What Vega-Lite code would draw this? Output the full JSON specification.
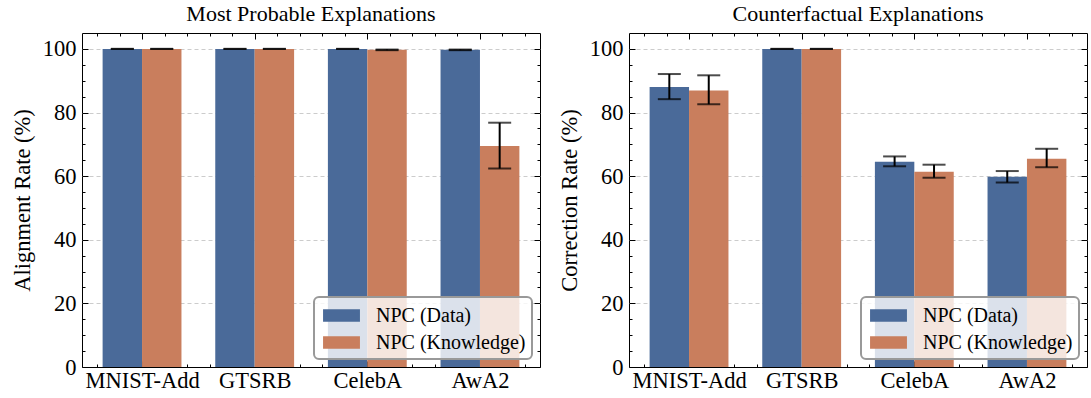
{
  "$schema": "https://vega.github.io/schema/vega-lite/v6.json",
  "padding": {"left": 10, "top": 2, "right": 2, "bottom": 2},
  "data": {"values": [
    {"panel": "MPE", "dataset": "MNIST-Add", "series": "NPC (Data)", "value": 100, "lo": 100, "hi": 100},
    {"panel": "MPE", "dataset": "MNIST-Add", "series": "NPC (Knowledge)", "value": 100, "lo": 100, "hi": 100},
    {"panel": "MPE", "dataset": "GTSRB", "series": "NPC (Data)", "value": 100, "lo": 100, "hi": 100},
    {"panel": "MPE", "dataset": "GTSRB", "series": "NPC (Knowledge)", "value": 100, "lo": 100, "hi": 100},
    {"panel": "MPE", "dataset": "CelebA", "series": "NPC (Data)", "value": 100, "lo": 100, "hi": 100},
    {"panel": "MPE", "dataset": "CelebA", "series": "NPC (Knowledge)", "value": 99.7, "lo": 99.6, "hi": 99.8},
    {"panel": "MPE", "dataset": "AwA2", "series": "NPC (Data)", "value": 99.7, "lo": 99.6, "hi": 99.8},
    {"panel": "MPE", "dataset": "AwA2", "series": "NPC (Knowledge)", "value": 69.5, "lo": 62.4, "hi": 76.8},
    {"panel": "CE", "dataset": "MNIST-Add", "series": "NPC (Data)", "value": 88.0, "lo": 84.2, "hi": 92.1},
    {"panel": "CE", "dataset": "MNIST-Add", "series": "NPC (Knowledge)", "value": 86.9, "lo": 82.6, "hi": 91.7},
    {"panel": "CE", "dataset": "GTSRB", "series": "NPC (Data)", "value": 100, "lo": 100, "hi": 100},
    {"panel": "CE", "dataset": "GTSRB", "series": "NPC (Knowledge)", "value": 100, "lo": 100, "hi": 100},
    {"panel": "CE", "dataset": "CelebA", "series": "NPC (Data)", "value": 64.5, "lo": 63.1, "hi": 66.2},
    {"panel": "CE", "dataset": "CelebA", "series": "NPC (Knowledge)", "value": 61.4, "lo": 59.5, "hi": 63.6},
    {"panel": "CE", "dataset": "AwA2", "series": "NPC (Data)", "value": 59.8, "lo": 58.0, "hi": 61.6},
    {"panel": "CE", "dataset": "AwA2", "series": "NPC (Knowledge)", "value": 65.5, "lo": 62.8, "hi": 68.6}
  ]},
  "spacing": 16,
  "resolve": {"legend": {"color": "independent"}},
  "hconcat": [
    {
      "title": "Most Probable Explanations",
      "width": 458, "height": 334,
      "transform": [{"filter": "datum.panel === 'MPE'"}],
      "resolve": {"scale": {"x": "independent"}},
      "layer": [
        {"layer": [
          {"mark": {"type": "bar"},
           "encoding": {
             "x": {"field": "dataset", "type": "nominal", "sort": ["MNIST-Add", "GTSRB", "CelebA", "AwA2"], "scale": {"paddingInner": 0.3, "paddingOuter": 0.183}, "axis": null},
             "xOffset": {"field": "series", "type": "nominal", "sort": ["NPC (Data)", "NPC (Knowledge)"], "scale": {"paddingInner": 0, "paddingOuter": 0}},
             "y": {"field": "value", "type": "quantitative", "scale": {"domain": [0, 105], "nice": false},
                   "axis": {"orient": "left", "values": [0,5,10,15,20,25,30,35,40,45,50,55,60,65,70,75,80,85,90,95,100],
                            "labelExpr": "datum.value % 20 === 0 ? datum.label : ''",
                            "tickSize": {"condition": {"test": "datum.value % 20 === 0", "value": -6}, "value": -3},
                            "grid": true,
                            "gridOpacity": {"condition": {"test": "datum.value % 20 === 0 && datum.value > 0", "value": 1}, "value": 0},
                            "labelPadding": 12, "title": "Alignment Rate (%)", "titlePadding": 8, "zindex": 0}},
             "color": {"field": "series", "type": "nominal", "sort": ["NPC (Data)", "NPC (Knowledge)"], "scale": {"domain": ["NPC (Data)", "NPC (Knowledge)"], "range": ["#4A6A99", "#C97E5D"]},
                       "legend": {"title": null}}
           }},
          {"mark": {"type": "rule", "color": "black", "strokeWidth": 2},
           "encoding": {
             "x": {"field": "dataset", "type": "nominal", "sort": ["MNIST-Add", "GTSRB", "CelebA", "AwA2"], "axis": null},
             "xOffset": {"field": "series", "type": "nominal", "sort": ["NPC (Data)", "NPC (Knowledge)"]},
             "y": {"field": "lo", "type": "quantitative",
                   "axis": {"orient": "right", "values": [0,5,10,15,20,25,30,35,40,45,50,55,60,65,70,75,80,85,90,95,100], "labels": false, "grid": false, "title": null,
                            "tickSize": {"condition": {"test": "datum.value % 20 === 0", "value": -6}, "value": -3}}},
             "y2": {"field": "hi"}
           }},
          {"mark": {"type": "tick", "color": "black", "thickness": 2, "size": 23},
           "encoding": {
             "x": {"field": "dataset", "type": "nominal", "sort": ["MNIST-Add", "GTSRB", "CelebA", "AwA2"], "axis": null},
             "xOffset": {"field": "series", "type": "nominal", "sort": ["NPC (Data)", "NPC (Knowledge)"]},
             "y": {"field": "lo", "type": "quantitative", "axis": null}
           }},
          {"mark": {"type": "tick", "color": "black", "thickness": 2, "size": 23},
           "encoding": {
             "x": {"field": "dataset", "type": "nominal", "sort": ["MNIST-Add", "GTSRB", "CelebA", "AwA2"], "axis": null},
             "xOffset": {"field": "series", "type": "nominal", "sort": ["NPC (Data)", "NPC (Knowledge)"]},
             "y": {"field": "hi", "type": "quantitative", "axis": null}
           }}
        ]},
        {"mark": {"type": "point", "opacity": 0},
         "encoding": {
           "x": {"field": "dataset", "type": "nominal", "scale": {"type": "point", "padding": 0.667, "domain": ["m0","m1","MNIST-Add","m3","m4","m5","m6","GTSRB","m8","m9","m10","m11","CelebA","m13","m14","m15","m16","AwA2","m18","m19"]},
                 "axis": {"orient": "top", "labels": false, "domain": false, "grid": false, "title": null,
                          "tickSize": {"condition": {"test": "indexof(['MNIST-Add','GTSRB','CelebA','AwA2'], datum.value) >= 0", "value": -6}, "value": -3}}},
           "y": {"field": "value", "type": "quantitative", "axis": null}
         }},
        {"mark": {"type": "point", "opacity": 0},
         "encoding": {
           "x": {"field": "dataset", "type": "nominal", "scale": {"type": "point", "padding": 0.667, "domain": ["m0","m1","MNIST-Add","m3","m4","m5","m6","GTSRB","m8","m9","m10","m11","CelebA","m13","m14","m15","m16","AwA2","m18","m19"]},
                 "axis": {"orient": "bottom", "domain": false, "grid": false, "title": null, "zindex": 0, "labelAngle": 0, "labelPadding": 8,
                          "labelExpr": "indexof(['MNIST-Add','GTSRB','CelebA','AwA2'], datum.value) >= 0 ? datum.label : ''",
                          "tickSize": {"condition": {"test": "indexof(['MNIST-Add','GTSRB','CelebA','AwA2'], datum.value) >= 0", "value": -6}, "value": -3}}},
           "y": {"field": "value", "type": "quantitative", "axis": null}
         }}
      ]
    },
    {
      "title": "Counterfactual Explanations",
      "width": 458, "height": 334,
      "transform": [{"filter": "datum.panel === 'CE'"}],
      "resolve": {"scale": {"x": "independent"}},
      "layer": [
        {"layer": [
          {"mark": {"type": "bar"},
           "encoding": {
             "x": {"field": "dataset", "type": "nominal", "sort": ["MNIST-Add", "GTSRB", "CelebA", "AwA2"], "scale": {"paddingInner": 0.3, "paddingOuter": 0.183}, "axis": null},
             "xOffset": {"field": "series", "type": "nominal", "sort": ["NPC (Data)", "NPC (Knowledge)"], "scale": {"paddingInner": 0, "paddingOuter": 0}},
             "y": {"field": "value", "type": "quantitative", "scale": {"domain": [0, 105], "nice": false},
                   "axis": {"orient": "left", "values": [0,5,10,15,20,25,30,35,40,45,50,55,60,65,70,75,80,85,90,95,100],
                            "labelExpr": "datum.value % 20 === 0 ? datum.label : ''",
                            "tickSize": {"condition": {"test": "datum.value % 20 === 0", "value": -6}, "value": -3},
                            "grid": true,
                            "gridOpacity": {"condition": {"test": "datum.value % 20 === 0 && datum.value > 0", "value": 1}, "value": 0},
                            "labelPadding": 12, "title": "Correction Rate (%)", "titlePadding": 8, "zindex": 0}},
             "color": {"field": "series", "type": "nominal", "sort": ["NPC (Data)", "NPC (Knowledge)"], "scale": {"domain": ["NPC (Data)", "NPC (Knowledge)"], "range": ["#4A6A99", "#C97E5D"]},
                       "legend": {"title": null}}
           }},
          {"mark": {"type": "rule", "color": "black", "strokeWidth": 2},
           "encoding": {
             "x": {"field": "dataset", "type": "nominal", "sort": ["MNIST-Add", "GTSRB", "CelebA", "AwA2"], "axis": null},
             "xOffset": {"field": "series", "type": "nominal", "sort": ["NPC (Data)", "NPC (Knowledge)"]},
             "y": {"field": "lo", "type": "quantitative",
                   "axis": {"orient": "right", "values": [0,5,10,15,20,25,30,35,40,45,50,55,60,65,70,75,80,85,90,95,100], "labels": false, "grid": false, "title": null,
                            "tickSize": {"condition": {"test": "datum.value % 20 === 0", "value": -6}, "value": -3}}},
             "y2": {"field": "hi"}
           }},
          {"mark": {"type": "tick", "color": "black", "thickness": 2, "size": 23},
           "encoding": {
             "x": {"field": "dataset", "type": "nominal", "sort": ["MNIST-Add", "GTSRB", "CelebA", "AwA2"], "axis": null},
             "xOffset": {"field": "series", "type": "nominal", "sort": ["NPC (Data)", "NPC (Knowledge)"]},
             "y": {"field": "lo", "type": "quantitative", "axis": null}
           }},
          {"mark": {"type": "tick", "color": "black", "thickness": 2, "size": 23},
           "encoding": {
             "x": {"field": "dataset", "type": "nominal", "sort": ["MNIST-Add", "GTSRB", "CelebA", "AwA2"], "axis": null},
             "xOffset": {"field": "series", "type": "nominal", "sort": ["NPC (Data)", "NPC (Knowledge)"]},
             "y": {"field": "hi", "type": "quantitative", "axis": null}
           }}
        ]},
        {"mark": {"type": "point", "opacity": 0},
         "encoding": {
           "x": {"field": "dataset", "type": "nominal", "scale": {"type": "point", "padding": 0.667, "domain": ["m0","m1","MNIST-Add","m3","m4","m5","m6","GTSRB","m8","m9","m10","m11","CelebA","m13","m14","m15","m16","AwA2","m18","m19"]},
                 "axis": {"orient": "top", "labels": false, "domain": false, "grid": false, "title": null,
                          "tickSize": {"condition": {"test": "indexof(['MNIST-Add','GTSRB','CelebA','AwA2'], datum.value) >= 0", "value": -6}, "value": -3}}},
           "y": {"field": "value", "type": "quantitative", "axis": null}
         }},
        {"mark": {"type": "point", "opacity": 0},
         "encoding": {
           "x": {"field": "dataset", "type": "nominal", "scale": {"type": "point", "padding": 0.667, "domain": ["m0","m1","MNIST-Add","m3","m4","m5","m6","GTSRB","m8","m9","m10","m11","CelebA","m13","m14","m15","m16","AwA2","m18","m19"]},
                 "axis": {"orient": "bottom", "domain": false, "grid": false, "title": null, "zindex": 0, "labelAngle": 0, "labelPadding": 8,
                          "labelExpr": "indexof(['MNIST-Add','GTSRB','CelebA','AwA2'], datum.value) >= 0 ? datum.label : ''",
                          "tickSize": {"condition": {"test": "indexof(['MNIST-Add','GTSRB','CelebA','AwA2'], datum.value) >= 0", "value": -6}, "value": -3}}},
           "y": {"field": "value", "type": "quantitative", "axis": null}
         }}
      ]
    }
  ],
  "config": {
    "font": "Liberation Serif",
    "view": {"stroke": "black", "strokeWidth": 1},
    "axis": {"labelFont": "Liberation Serif", "labelFontSize": 22.5, "labelColor": "black", "titleFont": "Liberation Serif", "titleFontSize": 22.5, "titleFontWeight": "normal", "titleColor": "black",
             "domain": false, "tickColor": "black", "tickWidth": 1, "gridColor": "#cccccc", "gridDash": [4, 3], "gridWidth": 1, "labelOverlap": false},
    "title": {"font": "Liberation Serif", "fontSize": 22, "fontWeight": "normal", "color": "black", "offset": 7},
    "legend": {"orient": "bottom-right", "offset": 8, "fillColor": "rgba(255,255,255,0.8)", "strokeColor": "#999999", "strokeWidth": 2, "cornerRadius": 5, "padding": 6,
               "labelFont": "Liberation Serif", "labelFontSize": 20, "labelColor": "black", "symbolType": "M-1.5,-0.5H1.5V0.5H-1.5Z", "symbolSize": 605, "symbolOffset": 9, "labelOffset": 22,
               "rowPadding": 4, "symbolStrokeWidth": 0, "symbolOpacity": 1}
  }
}
